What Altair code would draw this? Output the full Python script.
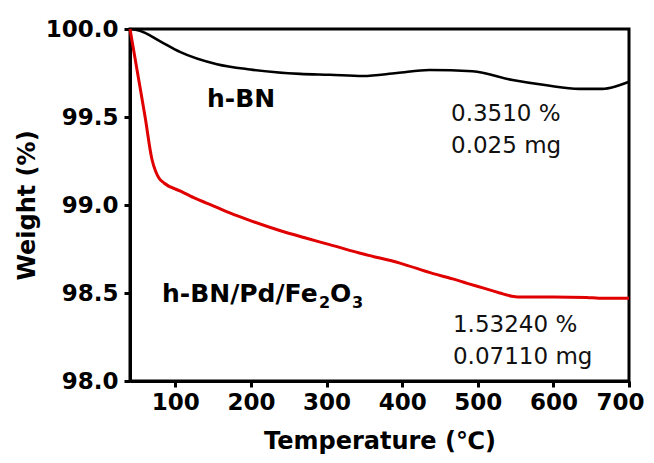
import altair as alt
import pandas as pd

# h-BN curve (temperature °C, weight %)
hbn_temp = [40, 53, 80, 106, 155, 199, 265, 304, 348, 393, 436, 493, 546, 591, 634, 665, 683, 700]
hbn_weight = [100.0, 99.99, 99.93, 99.87, 99.80, 99.77, 99.745, 99.74, 99.733, 99.75, 99.767, 99.76,
              99.71, 99.68, 99.66, 99.66, 99.675, 99.70]

# h-BN/Pd/Fe2O3 curve
pd_temp = [40, 50, 60, 69, 74, 78, 85, 106, 125, 150, 172, 200, 238, 270, 304, 350, 397,
           441, 467, 486, 510, 529, 545, 560, 600, 644, 660, 700]
pd_weight = [100.0, 99.75, 99.50, 99.26, 99.19, 99.155, 99.125, 99.08, 99.04, 98.995, 98.955,
             98.91, 98.855, 98.815, 98.775, 98.72, 98.67, 98.61, 98.58, 98.555, 98.525, 98.50,
             98.482, 98.477, 98.477, 98.475, 98.47, 98.47]

x_ticks = [100, 200, 300, 400, 500, 600, 700]
y_ticks = [98.0, 98.5, 99.0, 99.5, 100.0]

# annotations
hbn_label = ["h-BN"]
hbn_label_x = [141.8]
hbn_label_y = [99.557]
comp_parts = ["h-BN/Pd/Fe", "2", "O", "3"]
comp_x = [82.3]
comp_y = [98.449]
note_labels = ["0.3510 %", "0.025 mg", "1.53240 %", "0.07110 mg"]
note_x = [464.6, 464.6, 467.2, 467.2]
note_y = [99.477, 99.295, 98.278, 98.097]

df_hbn = pd.DataFrame({"T": hbn_temp, "W": hbn_weight})
df_pd = pd.DataFrame({"T": pd_temp, "W": pd_weight})
df_hl = pd.DataFrame({"T": hbn_label_x, "W": hbn_label_y, "label": hbn_label})
df_note = pd.DataFrame({"T": note_x, "W": note_y, "label": note_labels})

xs = alt.Scale(domain=[40, 700], nice=False, zero=False)
ys = alt.Scale(domain=[98, 100], nice=False, zero=False)

x_enc = alt.X("T:Q", scale=xs, title="Temperature (℃)",
              axis=alt.Axis(values=x_ticks, format="d", labelFlush=True, labelFlushOffset=15))
y_enc = alt.Y("W:Q", scale=ys, title="Weight (%)",
              axis=alt.Axis(values=y_ticks, format=".1f"))

line_hbn = alt.Chart(df_hbn).mark_line(color="black", strokeWidth=2.6, interpolate="monotone").encode(
    x=x_enc, y=y_enc)
line_pd = alt.Chart(df_pd).mark_line(color="#e00000", strokeWidth=3, interpolate="monotone").encode(
    x=x_enc, y=y_enc)

bold_style = dict(font="DejaVu Sans", fontWeight="bold", align="left", baseline="alphabetic",
                  color="black")
txt_hbn = alt.Chart(df_hl).mark_text(fontSize=25, **bold_style).encode(
    x=alt.X("T:Q", scale=xs), y=alt.Y("W:Q", scale=ys), text="label:N")

# composite label with sub-scripts, built from its parts
part_dx = [0, 157, 168, 190]
part_dy = [0, 6, 0, 6]
part_fs = [25, 16, 25, 16]
comp_layers = []
for part, dx, dy, fs in zip(comp_parts, part_dx, part_dy, part_fs):
    d = pd.DataFrame({"T": comp_x, "W": comp_y, "label": [part]})
    comp_layers.append(
        alt.Chart(d).mark_text(fontSize=fs, dx=dx, dy=dy, **bold_style).encode(
            x=alt.X("T:Q", scale=xs), y=alt.Y("W:Q", scale=ys), text="label:N"))

txt_note = alt.Chart(df_note).mark_text(
    font="DejaVu Sans", fontSize=23, align="left", baseline="alphabetic",
    color="#111111").encode(x=alt.X("T:Q", scale=xs), y=alt.Y("W:Q", scale=ys), text="label:N")

chart = alt.layer(line_hbn, line_pd, txt_hbn, *comp_layers, txt_note).properties(
    width=499, height=352,
    autosize=alt.AutoSizeParams(type="none"),
    padding={"left": 122, "top": 21, "right": 17, "bottom": 74},
).configure_view(
    stroke="black", strokeWidth=3
).configure_axis(
    grid=False,
    domainColor="black", domainWidth=3,
    tickColor="black", tickWidth=3, tickSize=6,
    labelFont="DejaVu Sans", labelFontWeight="bold", labelFontSize=23, labelColor="black",
    titleFont="DejaVu Sans", titleFontWeight="bold", titleFontSize=24, titleColor="black",
).configure_axisX(
    labelPadding=4, titlePadding=15
).configure_axisY(
    labelPadding=6, titlePadding=6
)

chart.save("out.html", embed_options={"renderer": "svg", "actions": False})
